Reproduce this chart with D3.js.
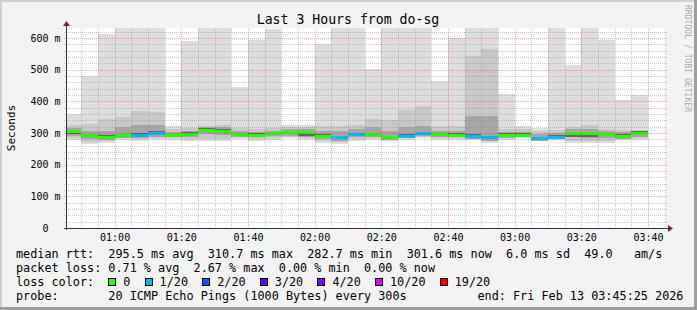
<!DOCTYPE html>
<html>
<head>
<meta charset="utf-8">
<script src="https://cdn.jsdelivr.net/npm/d3@7/dist/d3.min.js"></script>
<style>
  body { margin: 0; background: #f3f3f3; }
  text { font-family: "DejaVu Sans Mono", monospace; white-space: pre; }
</style>
</head>
<body>
<svg id="chart" width="697" height="310"></svg>
<script>
// 5 minute steps (end time of each step)
const stepEnd = ["00:50","00:55","01:00","01:05","01:10","01:15","01:20","01:25","01:30","01:35",
  "01:40","01:45","01:50","01:55","02:00","02:05","02:10","02:15","02:20","02:25",
  "02:30","02:35","02:40","02:45","02:50","02:55","03:00","03:05","03:10","03:15",
  "03:20","03:25","03:30","03:35","03:40"];

// median rtt (ms)
const median = [305,293,288,293,295,300,293,298,310,308,297,295,299,302,302,292,288,297,297,288,
  292,300,297,295,292,288,295,295,283,289,300,300,297,292,301];
// lost pings out of 20
const lossCount = [0,0,0,0,1,1,0,0,0,0,0,0,0,0,0,0,1,1,0,0,1,1,0,0,1,1,0,0,1,1,0,0,0,0,0];

// smoke: slowest / fastest ping and inner pairs (ms)
const pingMax = [360,479,614,680,680,680,321,592,680,680,447,593,630,327,327,580,680,680,503,680,
  680,680,466,600,680,680,425,321,316,680,516,680,595,406,419];
const pingMin = [279,265,269,279,274,279,279,276,274,274,282,274,279,284,279,268,265,274,279,276,
  279,284,279,279,279,268,279,284,274,279,268,269,269,279,279];
const upper1 = [327,330,345,352,371,367,312,316,322,327,317,312,316,318,318,321,321,324,345,340,
  374,384,321,321,543,567,312,312,308,310,320,327,314,310,310];
const lower1 = [285,272,276,284,280,284,284,282,281,281,286,280,284,288,284,275,272,280,284,281,
  284,288,284,284,284,275,284,288,279,284,276,276,276,284,284];
const upper2 = [316,308,306,318,327,326,302,308,318,318,306,304,308,312,312,306,306,312,318,306,
  318,322,308,306,353,353,304,303,296,300,312,314,306,302,308];
const lower2 = [292,280,278,284,285,288,286,288,296,294,288,286,290,292,286,282,276,286,288,279,
  284,290,288,286,282,276,284,288,276,282,286,284,284,282,288];
const upper3 = [309,298,293,298,300,305,297,302,315,312,301,299,303,306,306,296,292,301,301,292,
  296,304,301,299,296,292,299,299,287,293,304,304,301,296,305];
const lower3 = [298,286,282,287,289,294,290,292,303,301,291,289,293,296,291,286,281,291,292,283,
  287,294,292,289,287,282,289,291,279,285,287,286,290,286,294];

const yTicks = [0,100,200,300,400,500,600];
const yTickLabels = ["0  ","100 m","200 m","300 m","400 m","500 m","600 m"];
const xTickLabels = ["01:00","01:20","01:40","02:00","02:20","02:40","03:00","03:20","03:40"];

const lossLabels = ["0","1/20","2/20","3/20","4/20","10/20","19/20"];
const lossSteps = [0,1,2,3,4,10,19];
const lossColors = ["#26ff00","#00b8ff","#0059ff","#5e00ff","#7e00ff","#dd00ff","#ff0000"];

const legendRtt = "median rtt:  295.5 ms avg  310.7 ms max  282.7 ms min  301.6 ms now  6.0 ms sd  49.0   am/s";
const legendLoss = "packet loss: 0.71 % avg  2.67 % max  0.00 % min  0.00 % now";
const legendProbe = "probe:       20 ICMP Echo Pings (1000 Bytes) every 300s";
const legendEnd = "end: Fri Feb 13 03:45:25 2026";
const title = "Last 3 Hours from do-sg";

const toMin = s => { const p = s.split(":"); return +p[0] * 60 + +p[1]; };

const W = 697, H = 310;
const pLeft = 66, pRight = 666, pTop = 28, pBottom = 228;

const x = d3.scaleLinear().domain([45 + 25/60, 225 + 25/60]).range([pLeft, pRight]);
const y = d3.scaleLinear().domain([0, 632]).range([pBottom, pTop]);

const svg = d3.select("#chart");

// frame
svg.append("rect").attr("width", W).attr("height", H).attr("fill", "#f3f3f3");
svg.append("rect").attr("x", 0).attr("y", 0).attr("width", W).attr("height", 2).attr("fill", "#cfcfcf");
svg.append("rect").attr("x", 0).attr("y", 0).attr("width", 2).attr("height", H).attr("fill", "#cfcfcf");
svg.append("rect").attr("x", 0).attr("y", H - 3).attr("width", W).attr("height", 3).attr("fill", "#9e9e9e");
svg.append("rect").attr("x", W - 3).attr("y", 0).attr("width", 3).attr("height", H).attr("fill", "#9e9e9e");

// canvas
svg.append("rect").attr("x", pLeft).attr("y", pTop).attr("width", pRight - pLeft).attr("height", pBottom - pTop)
  .attr("fill", "#ffffff");

svg.append("clipPath").attr("id", "plot")
  .append("rect").attr("x", pLeft + 1).attr("y", pTop).attr("width", pRight - pLeft - 1).attr("height", pBottom - pTop);

const data = stepEnd.map((s, i) => ({
  t: toMin(s), med: median[i], loss: lossCount[i],
  layers: [[pingMin[i], pingMax[i]], [lower1[i], upper1[i]], [lower2[i], upper2[i]], [lower3[i], upper3[i]]]
}));

const smokeColors = ["#dddddd", "#c8c8c8", "#a6a6a6", "#666666"];
const g = svg.append("g").attr("clip-path", "url(#plot)").attr("shape-rendering", "crispEdges");

smokeColors.forEach((c, k) => {
  g.selectAll(null).data(data).enter().append("rect")
    .attr("x", d => x(d.t - 5))
    .attr("width", d => x(d.t) - x(d.t - 5))
    .attr("y", d => y(d.layers[k][1]))
    .attr("height", d => y(d.layers[k][0]) - y(d.layers[k][1]))
    .attr("fill", c);
});

const lossColor = n => {
  let c = lossColors[0];
  lossSteps.forEach((s, i) => { if (n >= s) c = lossColors[i]; });
  return c;
};

g.selectAll(null).data(data).enter().append("rect")
  .attr("x", d => x(d.t - 5))
  .attr("width", d => x(d.t) - x(d.t - 5))
  .attr("y", d => Math.round(y(d.med)) - 1.5)
  .attr("height", 3)
  .attr("fill", d => lossColor(d.loss));

// grid (drawn over the data, as rrdtool does)
const grid = svg.append("g").attr("shape-rendering", "crispEdges");
const minorY = d3.range(20, 640, 20).filter(v => v % 100 !== 0);
const minorX = d3.range(50, 226, 5).filter(m => (m - 60) % 20 !== 0);

grid.selectAll(null).data(minorY).enter().append("line")
  .attr("x1", pLeft - 2).attr("x2", pRight + 2)
  .attr("y1", d => Math.round(y(d)) + 0.5).attr("y2", d => Math.round(y(d)) + 0.5)
  .attr("stroke", "rgba(140,140,140,0.45)").attr("stroke-dasharray", "1,1");
grid.selectAll(null).data(minorX).enter().append("line")
  .attr("y1", pTop).attr("y2", pBottom + 2)
  .attr("x1", d => Math.round(x(d)) + 0.5).attr("x2", d => Math.round(x(d)) + 0.5)
  .attr("stroke", "rgba(140,140,140,0.45)").attr("stroke-dasharray", "1,1");

grid.selectAll(null).data(yTicks.filter(v => v > 0)).enter().append("line")
  .attr("x1", pLeft - 2).attr("x2", pRight + 2)
  .attr("y1", d => Math.round(y(d)) + 0.5).attr("y2", d => Math.round(y(d)) + 0.5)
  .attr("stroke", "rgba(255,0,0,0.33)").attr("stroke-dasharray", "1,1");
grid.selectAll(null).data(xTickLabels).enter().append("line")
  .attr("y1", pTop).attr("y2", pBottom + 2)
  .attr("x1", d => Math.round(x(toMin(d))) + 0.5).attr("x2", d => Math.round(x(toMin(d))) + 0.5)
  .attr("stroke", "rgba(255,0,0,0.33)").attr("stroke-dasharray", "1,1");

// axes
svg.append("line").attr("x1", pLeft + 0.5).attr("x2", pLeft + 0.5).attr("y1", pBottom + 2).attr("y2", pTop - 3)
  .attr("stroke", "#333");
svg.append("line").attr("x1", pLeft - 2).attr("x2", pRight + 3).attr("y1", pBottom + 0.5).attr("y2", pBottom + 0.5)
  .attr("stroke", "#333");
svg.append("path").attr("d", `M${pLeft - 3},${pTop - 2} L${pLeft + 4},${pTop - 2} L${pLeft + 0.5},${pTop - 7} Z`)
  .attr("fill", "#8b1e1e");
svg.append("path").attr("d", `M${pRight + 2},${pBottom - 3} L${pRight + 2},${pBottom + 4} L${pRight + 7},${pBottom + 0.5} Z`)
  .attr("fill", "#8b1e1e");

// tick labels
svg.selectAll(null).data(yTicks).enter().append("text")
  .attr("x", 60.5).attr("y", d => y(d) + 3.5)
  .attr("text-anchor", "end").attr("font-size", "10px").attr("fill", "#000")
  .text((d, i) => yTickLabels[i]);

svg.selectAll(null).data(xTickLabels).enter().append("text")
  .attr("x", d => x(toMin(d)) + 0.5).attr("y", 241)
  .attr("text-anchor", "middle").attr("font-size", "10px").attr("fill", "#000")
  .text(d => d);

// titles
svg.append("text").attr("x", 348).attr("y", 24).attr("text-anchor", "middle")
  .attr("font-size", "13.2px").text(title);
svg.append("text").attr("transform", "translate(15,128) rotate(-90)").attr("text-anchor", "middle")
  .attr("font-size", "11px").text("Seconds");
svg.append("text").attr("transform", "translate(685,5) rotate(90)")
  .attr("font-size", "8px").attr("fill", "#aaaaaa")
  .attr("textLength", 107).attr("lengthAdjust", "spacing")
  .text("RRDTOOL / TOBI OETIKER");

// legend
const fs = "11.8px", cw = 7.1, lx = 16;
svg.append("text").attr("x", lx).attr("y", 258).attr("font-size", fs).text(legendRtt);
svg.append("text").attr("x", lx).attr("y", 272).attr("font-size", fs).text(legendLoss);
svg.append("text").attr("x", lx).attr("y", 286).attr("font-size", fs).text("loss color:");
svg.append("text").attr("x", lx).attr("y", 300).attr("font-size", fs).text(legendProbe);
svg.append("text").attr("x", lx + 65 * cw).attr("y", 300).attr("font-size", fs).text(legendEnd);

let bx = lx + 13 * cw;
lossLabels.forEach((lab, i) => {
  svg.append("rect").attr("x", Math.round(bx) + 0.5).attr("y", 278.5).attr("width", 7).attr("height", 7)
    .attr("fill", lossColors[i]).attr("stroke", "#000").attr("stroke-width", 1);
  svg.append("text").attr("x", bx + 15).attr("y", 286).attr("font-size", fs).text(lab);
  bx += 15 + lab.length * cw + 14.2;
});
</script>
</body>
</html>
